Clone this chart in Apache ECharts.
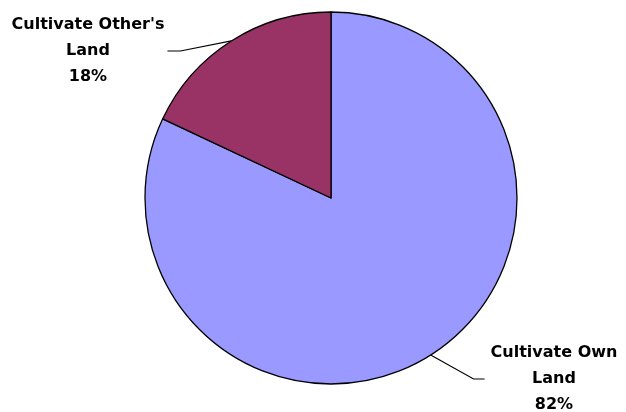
<!DOCTYPE html>
<html>
<head>
<meta charset="utf-8">
<script src="https://cdn.jsdelivr.net/npm/echarts@6/dist/echarts.min.js"></script>
<style>html,body{margin:0;padding:0;background:#fff}#c{width:626px;height:412px}</style>
</head>
<body>
<div id="c"></div>
<script>
var categories = ["Cultivate Own Land", "Cultivate Other's Land"];
var values = [82, 18];
var colors = ['#9999FF', '#993366'];

var chart = echarts.init(document.getElementById('c'), null, {renderer: 'canvas'});
var labelPos = [
  {x: 554, y: 379, side: 'left', gap: 6, knee: 11},
  {x: 88, y: 51, side: 'right', gap: 3, knee: 13}
];
chart.setOption({
  animation: false,
  series: [{
    type: 'pie',
    center: [331, 198],
    radius: 186,
    startAngle: 90,
    clockwise: true,
    avoidLabelOverlap: false,
    data: categories.map(function (c, i) {
      return {name: c, value: values[i], itemStyle: {color: colors[i]}};
    }),
    itemStyle: {borderColor: '#000', borderWidth: 1.3},
    label: {
      show: true,
      position: 'outside',
      align: 'center',
      fontFamily: 'DejaVu Sans',
      fontWeight: 'bold',
      fontSize: 16,
      lineHeight: 26,
      color: '#000',
      formatter: function (p) {
        return p.name.replace(/ (\S+)$/, '\n$1') + '\n' + Math.round(p.percent) + '%';
      }
    },
    labelLine: {show: true, length: 10, length2: 10, lineStyle: {color: '#000', width: 1.2}},
    emphasis: {disabled: true},
    labelLayout: function (params) {
      var lp = labelPos[params.dataIndex];
      var w = params.labelRect.width;
      var p0 = params.labelLinePoints ? params.labelLinePoints[0] : null;
      var end, kneeX;
      if (lp.side === 'left') {
        end = lp.x - w / 2 - lp.gap;
        kneeX = end - lp.knee;
      } else {
        end = lp.x + w / 2 + lp.gap;
        kneeX = end + lp.knee;
      }
      var res = {x: lp.x, y: lp.y, align: 'center', verticalAlign: 'middle'};
      if (p0) {
        res.labelLinePoints = [p0, [kneeX, lp.y], [end, lp.y]];
      }
      return res;
    }
  }]
});
</script>
</body>
</html>
